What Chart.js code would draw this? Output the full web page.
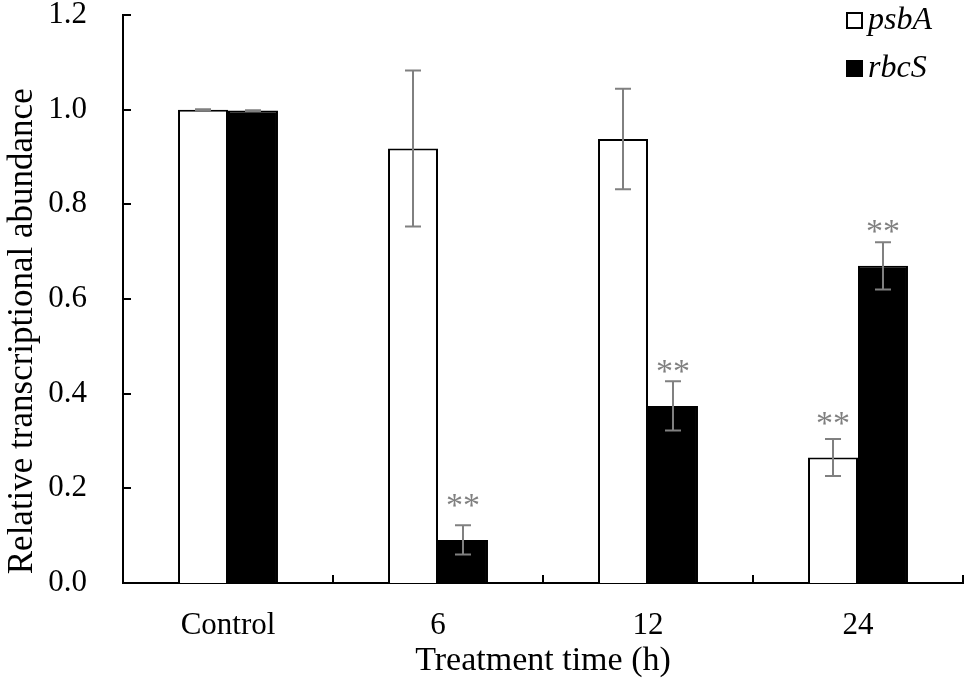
<!DOCTYPE html>
<html>
<head>
<meta charset="utf-8">
<script src="https://cdn.jsdelivr.net/npm/chart.js@4/dist/chart.umd.min.js"></script>
<style>
  html, body { margin: 0; padding: 0; background: #fff; }
  #wrap { width: 970px; height: 687px; }
</style>
</head>
<body>
<div id="wrap"><canvas id="chart"></canvas></div>
<script>
// values
const categories = ["Control", "6", "12", "24"]
const psbA = [1.0, 0.918, 0.938, 0.265]
const psbAErr = [0.001, 0.165, 0.106, 0.039]
const rbcS = [0.998, 0.091, 0.374, 0.67]
const rbcSErr = [0.001, 0.031, 0.052, 0.05]
const psbASig = ["", "", "", "**"]
const rbcSSig = ["", "**", "**", "**"]
const yTicks = [0, 0.2, 0.4, 0.6, 0.8, 1.0, 1.2]

const FONT = "'Liberation Serif', 'Times New Roman', serif"
const GREY = "#808080"

// error bars, significance stars, inward ticks and legend
const extras = {
  id: "extras",
  afterDatasetsDraw(chart) {
    const ctx = chart.ctx
    const y = chart.scales.y
    const errs = [psbAErr, rbcSErr]
    const sigs = [psbASig, rbcSSig]
    ctx.save()
    chart.data.datasets.forEach((ds, di) => {
      const meta = chart.getDatasetMeta(di)
      meta.data.forEach((bar, i) => {
        const v = ds.data[i]
        const top = y.getPixelForValue(v + errs[di][i])
        const bot = y.getPixelForValue(v - errs[di][i])
        const x = bar.x
        ctx.strokeStyle = GREY
        ctx.lineWidth = 2
        ctx.beginPath()
        ctx.moveTo(x, top); ctx.lineTo(x, bot)
        ctx.moveTo(x - 8, top); ctx.lineTo(x + 8, top)
        ctx.moveTo(x - 8, bot); ctx.lineTo(x + 8, bot)
        ctx.stroke()
        if (sigs[di][i]) {
          ctx.fillStyle = GREY
          ctx.font = "34px " + FONT
          ctx.textAlign = "center"
          ctx.textBaseline = "alphabetic"
          ctx.fillText(sigs[di][i], x, bar.y - 24)
        }
      })
    })
    ctx.restore()
  },
  afterDraw(chart) {
    const ctx = chart.ctx
    const { x, y } = chart.scales
    const area = chart.chartArea
    ctx.save()
    ctx.strokeStyle = "#000"
    ctx.lineWidth = 2
    ctx.beginPath()
    yTicks.forEach((t) => {
      const py = Math.round(y.getPixelForValue(t))
      ctx.moveTo(area.left, py); ctx.lineTo(area.left + 8, py)
    })
    const step = (area.right - area.left) / categories.length
    categories.forEach((c, i) => {
      const px = Math.round(x.getPixelForValue(i) + step / 2)
      ctx.moveTo(px, area.bottom); ctx.lineTo(px, area.bottom - 8)
    })
    ctx.stroke()

    // legend
    ctx.font = "italic 32px " + FONT
    ctx.textAlign = "left"
    ctx.textBaseline = "middle"
    chart.data.datasets.forEach((ds, i) => {
      const ly = 20 + i * 48
      ctx.fillStyle = ds.backgroundColor
      ctx.fillRect(847, ly - 7, 15, 15)
      ctx.strokeStyle = "#000"
      ctx.lineWidth = 2
      ctx.strokeRect(847, ly - 7, 15, 15)
      ctx.fillStyle = "#000"
      ctx.fillText(ds.label, 868, ly + 1)
    })
    ctx.restore()
  }
}

new Chart(document.getElementById("chart"), {
  type: "bar",
  data: {
    labels: categories,
    datasets: [
      {
        label: "psbA",
        data: psbA,
        backgroundColor: "#ffffff",
        borderColor: "#000000",
        borderWidth: 2,
      },
      {
        label: "rbcS",
        data: rbcS,
        backgroundColor: "#000000",
        borderColor: "#000000",
        borderWidth: 2,
      },
    ],
  },
  options: {
    responsive: true,
    maintainAspectRatio: false,
    animation: false,
    devicePixelRatio: 1,
    layout: { padding: { top: 15, right: 7, left: 0, bottom: 0 } },
    datasets: {
      bar: { barPercentage: 1, categoryPercentage: 0.476 },
    },
    plugins: {
      legend: { display: false },
      tooltip: { enabled: false },
    },
    scales: {
      x: {
        grid: { display: false },
        border: { display: true, color: "#000", width: 2 },
        ticks: { color: "#000", font: { family: FONT, size: 31 }, padding: 16, maxRotation: 0 },
        title: {
          display: true,
          text: "Treatment time (h)",
          color: "#000",
          font: { family: FONT, size: 34 },
          padding: { top: 0, bottom: 6 },
        },
        afterFit: (s) => { s.height = 104 },
      },
      y: {
        min: 0,
        max: 1.2,
        grid: { display: false },
        border: { display: true, color: "#000", width: 2 },
        ticks: {
          color: "#000",
          font: { family: FONT, size: 31 },
          padding: 28,
          stepSize: 0.2,
          callback: (v) => v.toFixed(1),
        },
        title: {
          display: true,
          align: "start",
          text: " Relative transcriptional abundance",
          color: "#000",
          font: { family: FONT, size: 35 },
          padding: { top: 2, bottom: 0 },
        },
        afterFit: (s) => { s.width = 123; s.paddingTop = 0; s.paddingBottom = 0 },
      },
    },
  },
  plugins: [extras],
})
</script>
</body>
</html>
